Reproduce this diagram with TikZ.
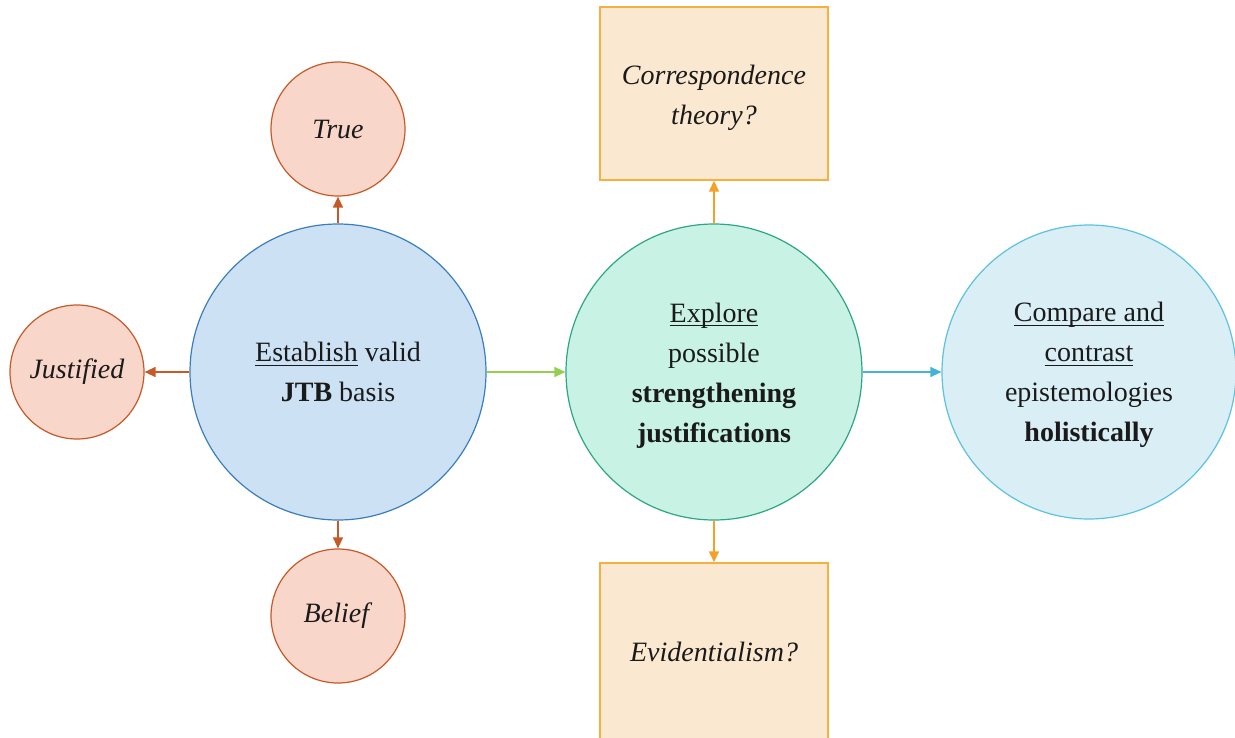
\documentclass[tikz,border=0pt]{standalone}
\usepackage{fontspec}
\setmainfont{Liberation Serif}
\usetikzlibrary{arrows.meta}
\newcommand\myul[1]{\underline{\smash{#1}\vphantom{\rule[-2pt]{0pt}{1pt}}}}
\definecolor{redfill}{HTML}{F8D7CA}
\definecolor{redline}{HTML}{C55A28}
\definecolor{bluefill}{HTML}{CCE2F4}
\definecolor{blueline}{HTML}{3B7EBE}
\definecolor{greenfill}{HTML}{C7F2E4}
\definecolor{greenline}{HTML}{2EA685}
\definecolor{cyanfill}{HTML}{DAEEF6}
\definecolor{cyanline}{HTML}{5BC2DF}
\definecolor{boxfill}{HTML}{FBE8D0}
\definecolor{boxline}{HTML}{F5B042}
\definecolor{greenarrow}{HTML}{92D050}
\definecolor{cyanarrow}{HTML}{45B3D6}
\definecolor{orangearrow}{HTML}{F4A12A}
\definecolor{txt}{HTML}{1A1A1A}
\begin{document}
\begin{tikzpicture}[x=1pt,y=-1pt,
  every node/.style={text=txt,font=\fontsize{28}{40}\selectfont,align=center,inner sep=0pt},
  small/.style={circle,draw=redline,fill=redfill,line width=1.2pt,minimum size=134pt},
  big/.style={circle,line width=1.2pt,minimum size=296pt},
  qbox/.style={rectangle,draw=boxline,fill=boxfill,line width=1.4pt,minimum width=228pt},
  conn/.style={line width=1.4pt,-{Triangle[length=11pt,width=10pt]}}
]
\useasboundingbox (0,0) rectangle (1235,737);
\node[big,draw=blueline,fill=bluefill] (jtb) at (338,372) {\myul{Establish} valid\\\textbf{JTB} basis};
\node[big,draw=greenline,fill=greenfill] (exp) at (714,372) {};
\node (exptxt) at (714,385) {\myul{Explore}\\possible\\\textbf{strengthening}\\\textbf{justifications}};
\node[big,draw=cyanline,fill=cyanfill,minimum size=294pt] (cmp) at (1089,372) {};
\node (cmptxt) at (1089,385) {\myul{Compare and}\\\myul{contrast}\\epistemologies\\\textbf{holistically}};
\node[small] (true) at (338,129) {\textit{True}};
\node[small] (just) at (77,372) {\textit{Justified}};
\node[small] (bel) at (338,616) {\textit{Belief}};
\node[qbox,minimum height=173pt] (corr) at (714,93.5) {};
\node (corrtxt) at (714,97.5) {\textit{Correspondence}\\\textit{theory?}};
\node[qbox,minimum height=190pt] (evid) at (714,658) {};
\node (evidtxt) at (714,652) {\textit{Evidentialism?}};
\draw[conn,draw=redline,fill=redline] (jtb) -- (true);
\draw[conn,draw=redline,fill=redline] (jtb) -- (just);
\draw[conn,draw=redline,fill=redline] (jtb) -- (bel);
\draw[conn,draw=greenarrow,fill=greenarrow] (jtb) -- (exp);
\draw[conn,draw=cyanarrow,fill=cyanarrow] (exp) -- (cmp);
\draw[conn,draw=orangearrow,fill=orangearrow] (exp) -- (corr);
\draw[conn,draw=orangearrow,fill=orangearrow] (exp) -- (evid.north);
\end{tikzpicture}
\end{document}
